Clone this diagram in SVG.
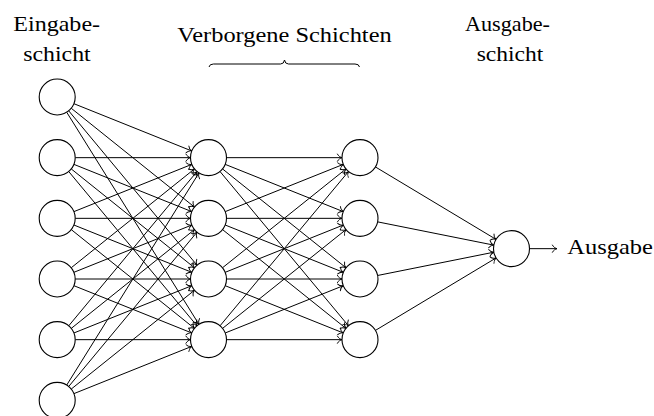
<svg xmlns="http://www.w3.org/2000/svg" width="654" height="416" viewBox="0 0 654 416">
  <style>
    .lbl { font-family: "Liberation Serif", "Times New Roman", serif; font-size: 22px; fill: #000; }
    .node circle { fill: #fff; stroke: #000; stroke-width: 1.1; }
    .edges line { stroke: #000; stroke-width: 1; marker-end: url(#tip); }
    .brace { fill: none; stroke: #000; stroke-width: 1; }
  </style>
  <defs>
    <!-- thin open arrow tip with curved barbs -->
    <marker id="tip" markerUnits="userSpaceOnUse" viewBox="-6 -5 7 10" refX="0" refY="0" markerWidth="7" markerHeight="10" orient="auto" overflow="visible">
      <path d="M-4.6,-3.6 C-3.7,-1.6 -1.4,-0.35 0,0 C-1.4,0.35 -3.7,1.6 -4.6,3.6" fill="none" stroke="#000" stroke-width="0.95" stroke-linecap="round"/>
    </marker>
  </defs>

  <rect width="654" height="416" fill="#fff"/>

  <!-- layer captions -->
  <g id="caption-input">
    <text class="lbl" x="56.7" y="30.5" text-anchor="middle" textLength="86.7" lengthAdjust="spacingAndGlyphs">Eingabe-</text>
    <text class="lbl" x="57" y="60.5" text-anchor="middle" textLength="67.4" lengthAdjust="spacingAndGlyphs">schicht</text>
  </g>
  <g id="caption-hidden">
    <text class="lbl" x="284.5" y="42.3" text-anchor="middle" textLength="214.4" lengthAdjust="spacingAndGlyphs">Verborgene Schichten</text>
    <path class="brace" d="M209,67 Q209.5,64 213.5,64 L280.5,64 Q284,64 284.5,60 Q285,64 288.5,64 L355,64 Q359,64 359.5,67"/>
  </g>
  <g id="caption-output">
    <text class="lbl" x="507.5" y="30.5" text-anchor="middle" textLength="85" lengthAdjust="spacingAndGlyphs">Ausgabe-</text>
    <text class="lbl" x="510" y="60.5" text-anchor="middle" textLength="66.6" lengthAdjust="spacingAndGlyphs">schicht</text>
  </g>

  <!-- connectors -->
  <g id="edges" class="edges">
    <!-- input layer to first hidden layer -->
    <line x1="73.91" y1="103.70" x2="191.79" y2="150.97"/>
    <line x1="71.24" y1="108.26" x2="194.46" y2="207.07"/>
    <line x1="68.71" y1="110.84" x2="196.99" y2="265.16"/>
    <line x1="66.72" y1="112.27" x2="198.98" y2="324.40"/>

    <line x1="75.20" y1="157.67" x2="190.50" y2="157.67"/>
    <line x1="73.91" y1="164.37" x2="191.79" y2="211.63"/>
    <line x1="71.24" y1="168.93" x2="194.46" y2="267.74"/>
    <line x1="68.71" y1="171.51" x2="196.99" y2="325.83"/>

    <line x1="73.91" y1="211.63" x2="191.79" y2="164.37"/>
    <line x1="75.20" y1="218.33" x2="190.50" y2="218.33"/>
    <line x1="73.91" y1="225.03" x2="191.79" y2="272.30"/>
    <line x1="71.24" y1="229.59" x2="194.46" y2="328.41"/>

    <line x1="71.24" y1="267.74" x2="194.46" y2="168.93"/>
    <line x1="73.91" y1="272.30" x2="191.79" y2="225.03"/>
    <line x1="75.20" y1="279.00" x2="190.50" y2="279.00"/>
    <line x1="73.91" y1="285.70" x2="191.79" y2="332.97"/>

    <line x1="68.71" y1="325.83" x2="196.99" y2="171.51"/>
    <line x1="71.24" y1="328.41" x2="194.46" y2="229.59"/>
    <line x1="73.91" y1="332.97" x2="191.79" y2="285.70"/>
    <line x1="75.20" y1="339.67" x2="190.50" y2="339.67"/>

    <line x1="66.72" y1="385.06" x2="198.98" y2="172.94"/>
    <line x1="68.71" y1="386.49" x2="196.99" y2="232.17"/>
    <line x1="71.24" y1="389.07" x2="194.46" y2="290.26"/>
    <line x1="73.91" y1="393.63" x2="191.79" y2="346.37"/>

    <!-- first hidden layer to second hidden layer -->
    <line x1="226.50" y1="157.67" x2="342.00" y2="157.67"/>
    <line x1="225.21" y1="164.37" x2="343.29" y2="211.63"/>
    <line x1="222.54" y1="168.93" x2="345.96" y2="267.74"/>
    <line x1="220.01" y1="171.51" x2="348.49" y2="325.83"/>

    <line x1="225.21" y1="211.63" x2="343.29" y2="164.37"/>
    <line x1="226.50" y1="218.33" x2="342.00" y2="218.33"/>
    <line x1="225.21" y1="225.03" x2="343.29" y2="272.30"/>
    <line x1="222.54" y1="229.59" x2="345.96" y2="328.41"/>

    <line x1="222.54" y1="267.74" x2="345.96" y2="168.93"/>
    <line x1="225.21" y1="272.30" x2="343.29" y2="225.03"/>
    <line x1="226.50" y1="279.00" x2="342.00" y2="279.00"/>
    <line x1="225.21" y1="285.70" x2="343.29" y2="332.97"/>

    <line x1="220.01" y1="325.83" x2="348.49" y2="171.51"/>
    <line x1="222.54" y1="328.41" x2="345.96" y2="229.59"/>
    <line x1="225.21" y1="332.97" x2="343.29" y2="285.70"/>
    <line x1="226.50" y1="339.67" x2="342.00" y2="339.67"/>

    <!-- second hidden layer to output neuron -->
    <line x1="375.43" y1="166.94" x2="496.07" y2="239.40"/>
    <line x1="377.65" y1="221.86" x2="493.85" y2="245.14"/>
    <line x1="377.65" y1="275.47" x2="493.85" y2="252.20"/>
    <line x1="375.43" y1="330.40" x2="496.07" y2="257.94"/>

    <!-- output -->
    <line x1="529.50" y1="248.67" x2="557.00" y2="248.67"/>
  </g>

  <!-- input layer -->
  <g id="in1" class="node"><circle cx="57.2" cy="97" r="18"/></g>
  <g id="in2" class="node"><circle cx="57.2" cy="157.67" r="18"/></g>
  <g id="in3" class="node"><circle cx="57.2" cy="218.33" r="18"/></g>
  <g id="in4" class="node"><circle cx="57.2" cy="279" r="18"/></g>
  <g id="in5" class="node"><circle cx="57.2" cy="339.67" r="18"/></g>
  <g id="in6" class="node"><circle cx="57.2" cy="400.33" r="18"/></g>

  <!-- first hidden layer -->
  <g id="h1a" class="node"><circle cx="208.5" cy="157.67" r="18"/></g>
  <g id="h1b" class="node"><circle cx="208.5" cy="218.33" r="18"/></g>
  <g id="h1c" class="node"><circle cx="208.5" cy="279" r="18"/></g>
  <g id="h1d" class="node"><circle cx="208.5" cy="339.67" r="18"/></g>

  <!-- second hidden layer -->
  <g id="h2a" class="node"><circle cx="360" cy="157.67" r="18"/></g>
  <g id="h2b" class="node"><circle cx="360" cy="218.33" r="18"/></g>
  <g id="h2c" class="node"><circle cx="360" cy="279" r="18"/></g>
  <g id="h2d" class="node"><circle cx="360" cy="339.67" r="18"/></g>

  <!-- output neuron -->
  <g id="out" class="node"><circle cx="511.5" cy="248.67" r="18"/></g>

  <g id="output-label">
    <text class="lbl" x="567.3" y="253.5" textLength="85.7" lengthAdjust="spacingAndGlyphs">Ausgabe</text>
  </g>
</svg>
